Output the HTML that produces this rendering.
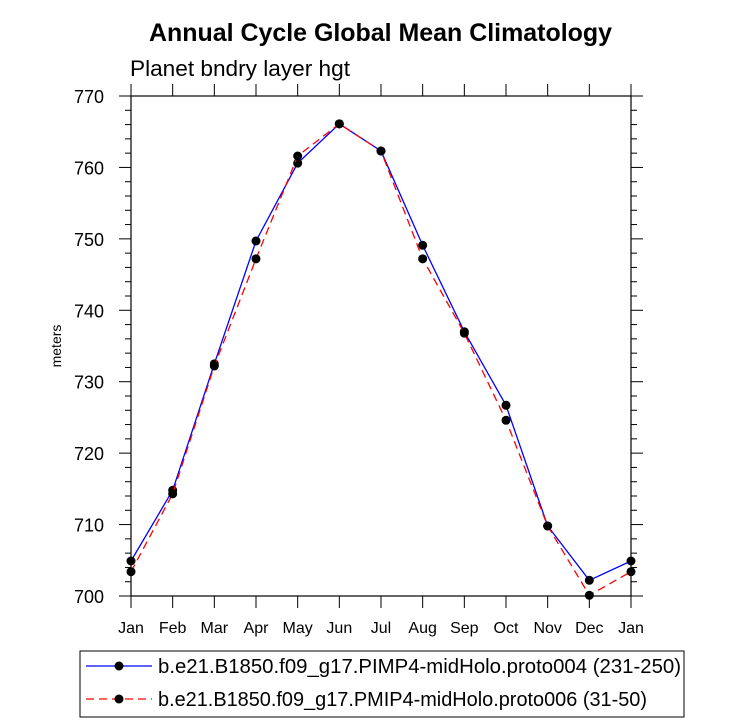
<!DOCTYPE html>
<html><head><meta charset="utf-8"><style>
body{margin:0;background:#fff;}
svg{display:block;font-family:"Liberation Sans",Arial,sans-serif;}
</style></head><body>
<svg id="chart" width="732" height="726">
<text x="149" y="41" font-size="25" font-weight="bold" textLength="463" lengthAdjust="spacingAndGlyphs">Annual Cycle Global Mean Climatology</text>
<text x="130" y="76" font-size="22" textLength="220" lengthAdjust="spacingAndGlyphs">Planet bndry layer hgt</text>
<text transform="translate(61,346) rotate(-90)" text-anchor="middle" font-size="14">meters</text>
<rect x="131" y="96" width="500" height="500" fill="none" stroke="#000" stroke-width="1.2"/>
<g id="axes"></g>
<g id="series"></g>
<rect x="80" y="651" width="604" height="66" fill="none" stroke="#000" stroke-width="1"/>
<g>
<line x1="86" y1="666" x2="152" y2="666" stroke="#0000ff" stroke-width="1.3"/>
<circle cx="119" cy="666" r="4.5" fill="#000"/>
<text x="158" y="673" font-size="20" textLength="523" lengthAdjust="spacingAndGlyphs">b.e21.B1850.f09_g17.PIMP4-midHolo.proto004 (231-250)</text>
</g>
<g>
<line x1="86" y1="699" x2="152" y2="699" stroke="#ff0000" stroke-width="1.3" stroke-dasharray="8,5"/>
<circle cx="119" cy="699" r="4.5" fill="#000"/>
<text x="158" y="706" font-size="20" textLength="489" lengthAdjust="spacingAndGlyphs">b.e21.B1850.f09_g17.PMIP4-midHolo.proto006 (31-50)</text>
</g>
</svg>
<script>
const months=["Jan","Feb","Mar","Apr","May","Jun","Jul","Aug","Sep","Oct","Nov","Dec","Jan"];
const yTicks=[700,710,720,730,740,750,760,770];
const series004=[704.9,714.8,732.5,749.7,760.6,766.1,762.3,749.1,737.0,726.7,709.8,702.2,704.9];
const series006=[703.4,714.3,732.2,747.2,761.6,766.1,762.3,747.2,736.8,724.6,709.8,700.1,703.4];
const NS="http://www.w3.org/2000/svg";
const L=131,R=631,T=96,B=596,Y0=700,Y1=770;
function xs(i){return L+i*(R-L)/12;}
function ys(v){return B-(v-Y0)/(Y1-Y0)*(B-T);}
function mk(tag,attrs,parent){const e=document.createElementNS(NS,tag);for(const k in attrs)e.setAttribute(k,attrs[k]);parent.appendChild(e);return e;}
const ax=document.getElementById('axes');
months.forEach((m,i)=>{
 const x=xs(i);
 mk('line',{x1:x,y1:B,x2:x,y2:B+12,stroke:'#000'},ax);
 mk('line',{x1:x,y1:T,x2:x,y2:T-12,stroke:'#000'},ax);
 const t=mk('text',{x:x,y:B+37,'text-anchor':'middle','font-size':'16'},ax);
 t.textContent=m;
 
 
});
for(let v=Y0;v<=Y1;v+=2){
 const y=ys(v),maj=(v%10===0),len=maj?12:6;
 mk('line',{x1:L,y1:y,x2:L-len,y2:y,stroke:'#000'},ax);
 mk('line',{x1:R,y1:y,x2:R+len,y2:y,stroke:'#000'},ax);
}
yTicks.forEach(v=>{
 const t=mk('text',{x:L-27,y:ys(v)+7,'text-anchor':'end','font-size':'18'},ax);
 t.textContent=v;
 
 
});
const sg=document.getElementById('series');
function draw(data,color,dash,name){
 const g=mk('g',{},sg);
 
 
 const pts=data.map((v,i)=>xs(i)+','+ys(v)).join(' ');
 const a={points:pts,fill:'none',stroke:color,'stroke-width':1.3};
 if(dash)a['stroke-dasharray']=dash;
 mk('polyline',a,g);
 data.forEach((v,i)=>{
  const c=mk('circle',{cx:xs(i),cy:ys(v),r:4.5,fill:'#000'},g);
  
  
 });
}
draw(series004,'#0000ff',null,'series-proto004');
draw(series006,'#ff0000','8,5','series-proto006');
</script>
</body></html>
